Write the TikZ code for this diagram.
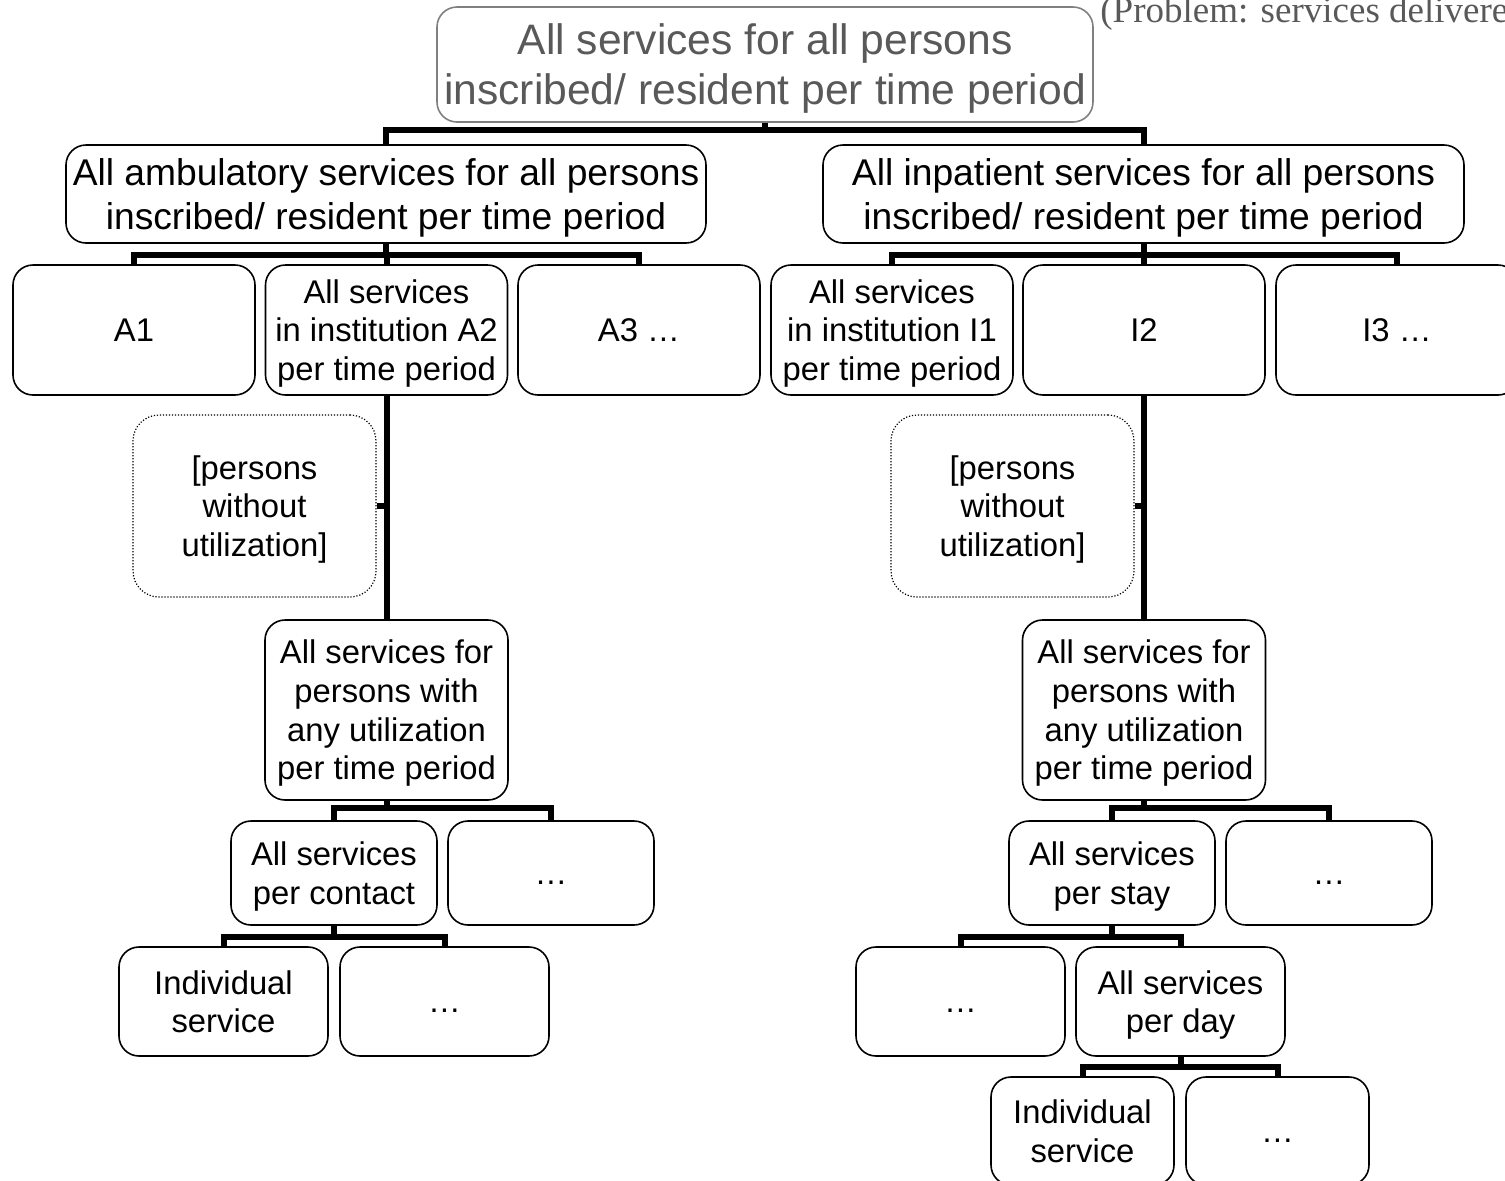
\documentclass[tikz,border=0pt]{standalone}
\usepackage{fontspec}
\setmainfont{Liberation Sans}
\newfontfamily\serifrm{Liberation Serif}
\definecolor{boxgray}{HTML}{808080}
\definecolor{textgray}{HTML}{595959}
\newcommand{\moredots}{\vphantom{A}…}
\begin{document}
\begin{tikzpicture}[x=0.5pt,y=-0.5pt,
  box/.style={draw, rounded corners=10pt, line width=0.8pt, align=center, inner sep=0pt, fill=white, text depth=0pt},
  dotbox/.style={box, rounded corners=13pt, dash pattern=on 0.6pt off 0.9pt, line width=0.6pt},
  s1/.style={font=\fontsize{21.3}{25}\selectfont},
  s2/.style={font=\fontsize{18.6}{22}\selectfont},
  s3/.style={font=\fontsize{16.4}{19.3}\selectfont},
  lvA/.style={box, s3, minimum width=121pt, minimum height=65pt},
  lvB/.style={box, s3, minimum width=103pt, minimum height=52pt},
  lvC/.style={box, s3, minimum width=104.5pt, minimum height=54.5pt},
  lvD/.style={box, s3, minimum width=91.5pt, minimum height=54pt},
  conn/.style={line width=3pt}
]
\useasboundingbox (0,0) rectangle (1505,1180);
\clip (0,0) rectangle (1505,1180);

% bar heights of the tree connectors
\coordinate (y1) at (0,130);
\coordinate (y2) at (0,255);
\coordinate (y3) at (0,808);
\coordinate (y4) at (0,937);
\coordinate (y5) at (0,1067);

% root
\node[box, s1, draw=boxgray, text=textgray, minimum width=328pt, minimum height=57.5pt] (top) at (765,64.5)
  {All services for all persons\\inscribed/ resident per time period};
\node[anchor=base west, inner sep=0pt, text=textgray, font=\serifrm\fontsize{18.5}{20}\selectfont] (note) at (1100,22.5)
  {(Problem: services delivere};

% second level
\node[box, s2, minimum width=320pt, minimum height=49pt] (amb) at (386,194)
  {All ambulatory services for all persons\\inscribed/ resident per time period};
\node[box, s2, minimum width=320.5pt, minimum height=49pt] (inp) at (1143.5,194)
  {All inpatient services for all persons\\inscribed/ resident per time period};

% institutions
\node[lvA] (A1) at (134,330) {A1};
\node[lvA] (A2) at (386.5,330) {All services\\in institution A2\\per time period};
\node[lvA] (A3) at (639,330) {A3 …};
\node[lvA] (I1) at (892,330) {All services\\in institution I1\\per time period};
\node[lvA] (I2) at (1144,330) {I2};
\node[lvA] (I3) at (1397,330) {I3 …};

% persons without utilization
\node[dotbox, s3, minimum width=121.5pt, minimum height=91pt] (dA) at (254.5,506) {[persons\\without\\utilization]};
\node[dotbox, s3, minimum width=121.5pt, minimum height=91pt] (dI) at (1012.5,506) {[persons\\without\\utilization]};

% persons with utilization
\node[box, s3, minimum width=121.5pt, minimum height=90pt] (uA) at (386.5,710)
  {All services for\\persons with\\any utilization\\per time period};
\node[box, s3, minimum width=121.5pt, minimum height=90pt] (uI) at (1144,710)
  {All services for\\persons with\\any utilization\\per time period};

% contact / stay level
\node[lvB] (cA) at (334,873) {All services\\per contact};
\node[lvB] (cA2) at (551,873) {\moredots};
\node[lvB] (sI) at (1112,873) {All services\\per stay};
\node[lvB] (sI2) at (1329,873) {\moredots};

% next level
\node[lvC] (iA) at (223.5,1001.5) {Individual\\service};
\node[lvC] (iA2) at (444.5,1001.5) {\moredots};
\node[lvC] (dI1) at (960.5,1001.5) {\moredots};
\node[lvC] (dI2) at (1180.5,1001.5) {All services\\per day};

% individual services per day
\node[lvD] (iI) at (1082.5,1131) {Individual\\service};
\node[lvD] (iI2) at (1277.5,1131) {\moredots};

% connectors
\draw[conn] (top.south) -- (top.south |- y1);
\draw[conn] (amb.north) -- (amb.north |- y1) -- (inp.north |- y1) -- (inp.north);

\draw[conn] (amb.south) -- (amb.south |- y2);
\draw[conn] (A1.north) -- (A1.north |- y2) -- (A3.north |- y2) -- (A3.north);
\draw[conn] (A2.north) -- (A2.north |- y2);
\draw[conn] (inp.south) -- (inp.south |- y2);
\draw[conn] (I1.north) -- (I1.north |- y2) -- (I3.north |- y2) -- (I3.north);
\draw[conn] (I2.north) -- (I2.north |- y2);

\draw[conn] (A2.south) -- (uA.north);
\draw[conn] (dA.east) -- (dA.east -| A2.south);
\draw[conn] (I2.south) -- (uI.north);
\draw[conn] (dI.east) -- (dI.east -| I2.south);

\draw[conn] (uA.south) -- (uA.south |- y3);
\draw[conn] (cA.north) -- (cA.north |- y3) -- (cA2.north |- y3) -- (cA2.north);
\draw[conn] (uI.south) -- (uI.south |- y3);
\draw[conn] (sI.north) -- (sI.north |- y3) -- (sI2.north |- y3) -- (sI2.north);

\draw[conn] (cA.south) -- (cA.south |- y4);
\draw[conn] (iA.north) -- (iA.north |- y4) -- (iA2.north |- y4) -- (iA2.north);
\draw[conn] (sI.south) -- (sI.south |- y4);
\draw[conn] (dI1.north) -- (dI1.north |- y4) -- (dI2.north |- y4) -- (dI2.north);

\draw[conn] (dI2.south) -- (dI2.south |- y5);
\draw[conn] (iI.north) -- (iI.north |- y5) -- (iI2.north |- y5) -- (iI2.north);
\end{tikzpicture}
\end{document}
